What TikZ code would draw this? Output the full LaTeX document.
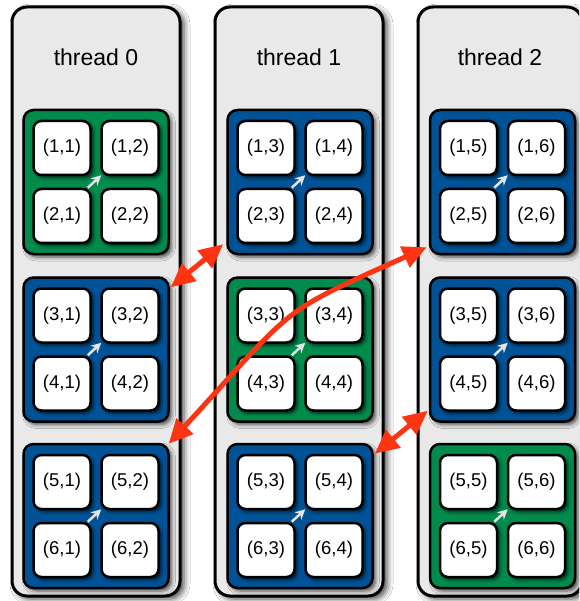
\documentclass[tikz,border=0pt]{standalone}
\usepackage{fontspec}
\setmainfont{Liberation Sans}
\usetikzlibrary{arrows.meta,calc,shadows.blur}
\definecolor{blkgreen}{RGB}{0,138,76}
\definecolor{blkblue}{RGB}{0,82,150}
\definecolor{thrgray}{RGB}{233,233,233}
\definecolor{arrred}{RGB}{252,52,18}
\definecolor{warrow}{RGB}{228,228,228}
\tikzset{
  thrbox/.style={draw=black, line width=3pt, fill=thrgray, rounded corners=15pt,
    minimum height=589pt, inner sep=0pt,
    blur shadow={shadow xshift=4pt, shadow yshift=-3pt, shadow blur radius=6pt, shadow opacity=75}},
  blkbox/.style={draw=black, line width=2.5pt, rounded corners=10pt,
    minimum width=145pt, minimum height=144pt, inner sep=0pt,
    blur shadow={shadow xshift=3pt, shadow yshift=-3pt, shadow blur radius=4pt, shadow opacity=70}},
  cellbox/.style={draw=black, line width=2.5pt, fill=white, rounded corners=8pt,
    minimum width=57pt, minimum height=54pt, inner sep=0pt,
    font=\fontsize{18.5}{20}\selectfont,
    blur shadow={shadow xshift=2.5pt, shadow yshift=-2.5pt, shadow blur radius=3pt, shadow opacity=75}},
  thrlabel/.style={font=\fontsize{23}{24}\selectfont, inner sep=0pt},
  redarrow/.style={draw=arrred, line width=5pt,
    {Triangle[length=24pt,width=22pt]}-{Triangle[length=24pt,width=22pt]}},
  smallarrow/.style={draw=warrow, line width=2.5pt, -{Stealth[length=10pt,width=10pt]}}
}
\begin{document}
\begin{tikzpicture}[x=1pt,y=-1pt]
\clip (0,0) rectangle (579,601);
\fill[white] (0,0) rectangle (579,601);
% thread columns
\foreach \t/\cx/\w in {0/96/168, 1/299/168, 2/500/164} {
  \node[thrbox, minimum width=\w pt] (th\t) at (\cx,301.5) {};
  \node[thrlabel] (lab\t) at (\cx,57) {thread \t};
}
% blocks and cells
\foreach \t/\bx in {0/96,1/300,2/502.5} {
  \foreach \r/\by in {0/182,1/349.5,2/516} {
    \ifnum\t=\r \def\bcol{blkgreen}\else\def\bcol{blkblue}\fi
    \node[blkbox, fill=\bcol] (b\t\r) at (\bx,\by) {};
    \foreach \i/\dy in {1/-34,2/34} {
      \foreach \j/\dx in {1/-34,2/34} {
        \pgfmathtruncatemacro\rr{2*\r+\i}
        \pgfmathtruncatemacro\cc{2*\t+\j}
        \node[cellbox] (c\t\r\i\j) at ($(b\t\r)+(\dx,\dy)$) {(\rr,\cc)};
      }
    }
    \draw[smallarrow] ($(c\t\r21.north east)+(-4,0)$) -- ($(c\t\r12.south west)+(1,-1)$);
  }
}
% exchange arrows
\draw[redarrow] ($(b10.south west)+(-3,-11)$) -- ($(b01.north east)+(1,11)$);
\draw[redarrow] ($(b20.south west)+(-2,-8)$)
  .. controls ($(b11)+(-24,-34.5)$) and ($(b11)+(-2,-46.5)$) ..
  ($(b02.north east)+(-1,1)$);
\draw[redarrow] ($(b21.south west)+(-1,-12)$) -- ($(b12.north east)+(1,11)$);
\end{tikzpicture}
\end{document}
